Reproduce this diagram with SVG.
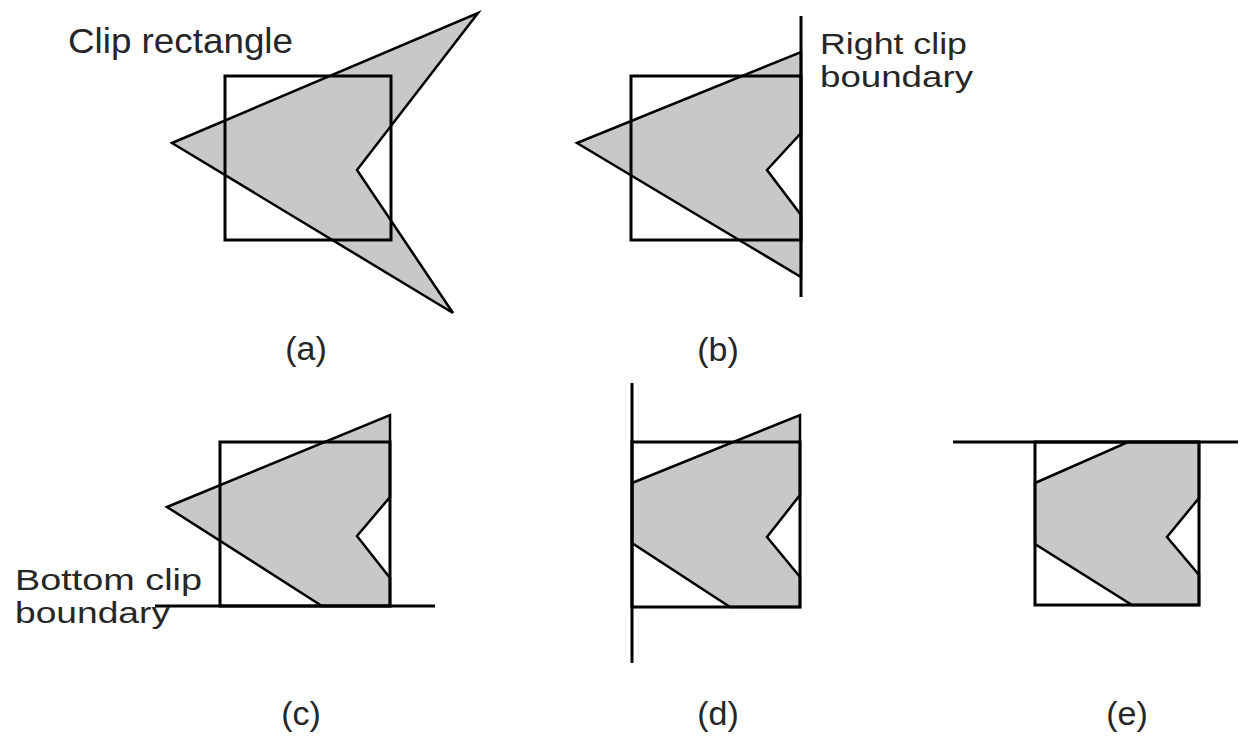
<svg xmlns="http://www.w3.org/2000/svg" width="1241" height="737" viewBox="0 0 1241 737">
<style>
.poly{fill:#c8c8c8;stroke:#000;stroke-width:2.5;stroke-linejoin:miter}
.rect{fill:none;stroke:#000;stroke-width:3}
.clip{stroke:#000;stroke-width:3;fill:none}
.t{font-family:"Liberation Sans",Arial,sans-serif;font-size:35px;fill:#262626}
.t2{font-family:"Liberation Sans",Arial,sans-serif;font-size:29px;fill:#262626}
.lab{font-family:"Liberation Sans",Arial,sans-serif;font-size:34px;fill:#262626;text-anchor:middle}
</style>
<rect width="1241" height="737" fill="#fff"/>
<g id="panel-a">
<polygon class="poly" points="172,143 478,13 357,170 453,313"/>
<rect class="rect" x="225" y="76" width="166" height="164"/>
<text class="t" x="68" y="53" textLength="225" lengthAdjust="spacingAndGlyphs">Clip rectangle</text>
<text class="lab" x="306" y="360">(a)</text>
</g>
<g id="panel-b">
<polygon class="poly" points="577,143 801,52 801,133 767,170 801,215 801,277"/>
<rect class="rect" x="631" y="76" width="170" height="164"/>
<line class="clip" x1="801" y1="16" x2="801" y2="297"/>
<text class="t2" x="820" y="54" textLength="147" lengthAdjust="spacingAndGlyphs">Right clip</text>
<text class="t2" x="820" y="87" textLength="153" lengthAdjust="spacingAndGlyphs">boundary</text>
<text class="lab" x="718" y="361">(b)</text>
</g>
<g id="panel-c">
<polygon class="poly" points="167,507 390,415 390,497 357,536 390,578 390,606 322,606"/>
<rect class="rect" x="220" y="442" width="170" height="164"/>
<line class="clip" x1="155" y1="606" x2="435" y2="606"/>
<text class="t2" x="15" y="590" textLength="187" lengthAdjust="spacingAndGlyphs">Bottom clip</text>
<text class="t2" x="15" y="623" textLength="155" lengthAdjust="spacingAndGlyphs">boundary</text>
<text class="lab" x="301" y="725">(c)</text>
</g>
<g id="panel-d">
<polygon class="poly" points="632,483 800,415 800,495 767,537 800,577 800,607 730,607 632,543"/>
<rect class="rect" x="632" y="442" width="168" height="165"/>
<line class="clip" x1="632" y1="383" x2="632" y2="663"/>
<text class="lab" x="718" y="725">(d)</text>
</g>
<g id="panel-e">
<polygon class="poly" points="1035,483 1128,442 1199,442 1199,498 1167,537 1199,575 1199,605 1132,605 1035,544"/>
<rect class="rect" x="1035" y="442" width="164" height="163"/>
<line class="clip" x1="953" y1="442" x2="1238" y2="442"/>
<text class="lab" x="1127" y="725">(e)</text>
</g>
<g id="connectors"></g>
</svg>
